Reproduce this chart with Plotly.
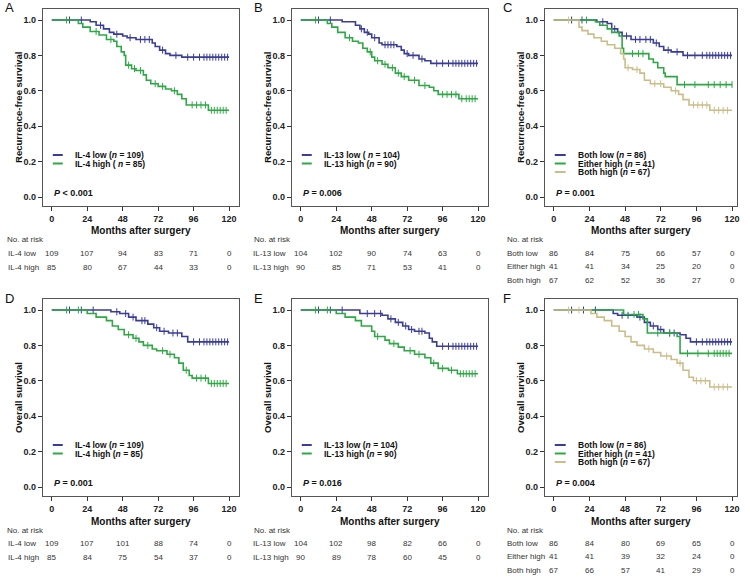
import plotly.graph_objects as go

W, H = 750, 579
FONT = "Liberation Sans, Arial, sans-serif"
BLUE = "#3a3d96"
GREEN = "#2ea844"
TAN = "#cbbd8a"

month_ticks = [0, 24, 48, 72, 96, 120]
surv_ticks = [0.0, 0.2, 0.4, 0.6, 0.8, 1.0]

# ---------------- Panel A (RFS, IL-4) ----------------
A_low_t = [0, 26, 30, 35, 39, 42, 48, 51, 57, 68, 70, 73, 77, 80, 88, 120]
A_low_s = [1.0, 0.99, 0.97, 0.95, 0.93, 0.92, 0.91, 0.90, 0.89, 0.87, 0.85, 0.83, 0.81, 0.80, 0.79, 0.79]
A_low_c = [12, 20, 33, 44, 53, 60, 63, 66, 75, 84, 92, 96, 100, 103, 105, 107, 109, 111, 113, 115, 117, 119]
A_high_t = [0, 18, 21, 26, 32, 37, 42, 44, 47, 49, 50, 54, 57, 62, 64, 67, 72, 77, 81, 85, 88, 91, 106, 120]
A_high_s = [1.0, 0.98, 0.96, 0.935, 0.915, 0.89, 0.88, 0.85, 0.82, 0.80, 0.745, 0.725, 0.715, 0.69, 0.66, 0.64, 0.625, 0.61, 0.60, 0.58, 0.555, 0.52, 0.49, 0.49]
A_high_c = [10, 30, 40, 52, 56, 60, 70, 75, 83, 95, 98, 101, 104, 108, 110, 112, 114, 116, 118]

# ---------------- Panel B (RFS, IL-13) ----------------
B_low_t = [0, 28, 37, 40, 43, 46, 48, 53, 55, 65, 68, 70, 73, 80, 84, 88, 120]
B_low_s = [1.0, 0.99, 0.97, 0.95, 0.93, 0.92, 0.90, 0.87, 0.86, 0.85, 0.83, 0.81, 0.80, 0.78, 0.77, 0.755, 0.755]
B_low_c = [12, 20, 41, 45, 50, 57, 59, 61, 63, 72, 76, 82, 92, 96, 100, 103, 105, 107, 109, 111, 113, 115, 117, 119]
B_high_t = [0, 18, 21, 25, 30, 35, 39, 42, 45, 48, 50, 55, 59, 64, 68, 73, 80, 87, 90, 93, 107, 120]
B_high_s = [1.0, 0.98, 0.96, 0.93, 0.90, 0.88, 0.87, 0.84, 0.82, 0.79, 0.77, 0.75, 0.73, 0.70, 0.68, 0.66, 0.63, 0.62, 0.60, 0.58, 0.555, 0.555]
B_high_c = [10, 33, 47, 52, 57, 62, 66, 70, 77, 84, 96, 99, 102, 105, 109, 112, 114, 116, 118]

# ---------------- Panel C (RFS, combined) ----------------
C_low_t = [0, 29, 36, 39, 43, 46, 52, 67, 71, 74, 79, 87, 120]
C_low_s = [1.0, 0.99, 0.98, 0.95, 0.93, 0.91, 0.89, 0.87, 0.85, 0.83, 0.82, 0.80, 0.80]
C_low_c = [12, 19, 33, 41, 49, 55, 58, 62, 65, 69, 77, 83, 90, 95, 100, 103, 105, 107, 109, 111, 113, 115, 117, 119]
C_either_t = [0, 28, 31, 36, 39, 44, 46, 47, 64, 67, 70, 74, 75, 83, 120]
C_either_s = [1.0, 0.99, 0.97, 0.95, 0.93, 0.91, 0.84, 0.81, 0.78, 0.76, 0.73, 0.70, 0.68, 0.635, 0.635]
C_either_c = [22, 53, 57, 60, 88, 95, 104, 108, 112, 116, 120]
C_high_t = [0, 17, 19, 23, 27, 32, 36, 41, 45, 47, 48, 53, 58, 61, 65, 74, 79, 84, 87, 91, 105, 120]
C_high_s = [1.0, 0.96, 0.94, 0.92, 0.90, 0.88, 0.86, 0.84, 0.81, 0.78, 0.73, 0.72, 0.70, 0.66, 0.64, 0.62, 0.60, 0.58, 0.55, 0.52, 0.49, 0.49]
C_high_c = [10, 50, 56, 68, 72, 82, 94, 97, 100, 103, 108, 111, 114, 117]

# ---------------- Panel D (OS, IL-4) ----------------
D_low_t = [0, 40, 46, 52, 57, 65, 69, 73, 79, 88, 92, 120]
D_low_s = [1.0, 0.99, 0.98, 0.96, 0.94, 0.92, 0.90, 0.88, 0.87, 0.85, 0.82, 0.82]
D_low_c = [12, 20, 28, 44, 50, 55, 61, 63, 71, 76, 82, 85, 96, 100, 103, 105, 107, 109, 111, 113, 115, 117, 119]
D_high_t = [0, 24, 30, 37, 41, 45, 49, 55, 59, 62, 68, 71, 78, 83, 86, 89, 93, 95, 106, 120]
D_high_s = [1.0, 0.98, 0.96, 0.94, 0.91, 0.89, 0.86, 0.84, 0.82, 0.80, 0.78, 0.77, 0.75, 0.73, 0.70, 0.66, 0.63, 0.615, 0.585, 0.585]
D_high_c = [10, 18, 52, 57, 65, 75, 80, 91, 98, 101, 104, 108, 110, 112, 114, 116, 118]

# ---------------- Panel E (OS, IL-13) ----------------
E_low_t = [0, 40, 55, 59, 64, 69, 73, 77, 84, 87, 89, 92, 120]
E_low_s = [1.0, 0.98, 0.97, 0.95, 0.93, 0.91, 0.89, 0.88, 0.87, 0.84, 0.82, 0.795, 0.795]
E_low_c = [12, 20, 28, 45, 50, 54, 61, 66, 71, 75, 80, 82, 96, 100, 103, 105, 107, 109, 111, 113, 115, 117, 119]
E_high_t = [0, 24, 30, 37, 41, 48, 50, 57, 60, 66, 70, 77, 84, 88, 93, 100, 106, 120]
E_high_s = [1.0, 0.98, 0.96, 0.94, 0.91, 0.88, 0.85, 0.83, 0.81, 0.79, 0.77, 0.75, 0.73, 0.70, 0.67, 0.66, 0.64, 0.64]
E_high_c = [10, 18, 52, 63, 74, 80, 90, 96, 102, 108, 110, 112, 114, 116, 118]

# ---------------- Panel F (OS, combined) ----------------
F_low_t = [0, 40, 43, 56, 61, 65, 70, 74, 85, 89, 92, 120]
F_low_s = [1.0, 0.98, 0.97, 0.96, 0.93, 0.91, 0.89, 0.87, 0.86, 0.84, 0.82, 0.82]
F_low_c = [12, 20, 28, 46, 50, 58, 63, 67, 72, 78, 81, 96, 100, 103, 105, 107, 109, 111, 113, 115, 117, 119]
F_either_t = [0, 47, 60, 63, 83, 85, 120]
F_either_s = [1.0, 0.975, 0.95, 0.87, 0.85, 0.755, 0.755]
F_either_c = [54, 57, 70, 78, 90, 97, 104, 108, 110, 112, 114, 116, 118]
F_high_t = [0, 25, 29, 34, 39, 44, 48, 52, 56, 61, 67, 72, 79, 83, 87, 91, 94, 105, 120]
F_high_s = [1.0, 0.98, 0.96, 0.94, 0.91, 0.88, 0.85, 0.82, 0.80, 0.78, 0.76, 0.74, 0.72, 0.70, 0.66, 0.62, 0.60, 0.565, 0.565]
F_high_c = [10, 17, 64, 76, 85, 96, 99, 102, 108, 111, 114, 117]

# ---------------- Risk tables ----------------
A_risk_rows = ["IL-4 low", "IL-4 high"]
A_risk = [[109, 107, 94, 83, 71, 0], [85, 80, 67, 44, 33, 0]]
B_risk_rows = ["IL-13 low", "IL-13 high"]
B_risk = [[104, 102, 90, 74, 63, 0], [90, 85, 71, 53, 41, 0]]
C_risk_rows = ["Both low", "Either high", "Both high"]
C_risk = [[86, 84, 75, 66, 57, 0], [41, 41, 34, 25, 20, 0], [67, 62, 52, 36, 27, 0]]
D_risk_rows = ["IL-4 low", "IL-4 high"]
D_risk = [[109, 107, 101, 88, 74, 0], [85, 84, 75, 54, 37, 0]]
E_risk_rows = ["IL-13 low", "IL-13 high"]
E_risk = [[104, 102, 98, 82, 66, 0], [90, 89, 78, 60, 45, 0]]
F_risk_rows = ["Both low", "Either high", "Both high"]
F_risk = [[86, 84, 80, 69, 65, 0], [41, 41, 39, 32, 24, 0], [67, 66, 57, 41, 29, 0]]

A_legend = ["IL-4 low (<i>n</i> = 109)", "IL-4 high ( <i>n</i> = 85)"]
B_legend = ["IL-13 low ( <i>n</i> = 104)", "IL-13 high (<i>n</i> = 90)"]
C_legend = ["Both low (<i>n</i> = 86)", "Either high (<i>n</i> = 41)", "Both high (<i>n</i> = 67)"]
D_legend = ["IL-4 low (<i>n</i> = 109)", "IL-4 high (<i>n</i> = 85)"]
E_legend = ["IL-13 low (<i>n</i> = 104)", "IL-13 high (<i>n</i> = 90)"]
F_legend = ["Both low (<i>n</i> = 86)", "Either high (<i>n</i> = 41)", "Both high (<i>n</i> = 67)"]

p_values = ["<i>P</i> < 0.001", "<i>P</i> = 0.006", "<i>P</i> = 0.001",
            "<i>P</i> = 0.001", "<i>P</i> = 0.016", "<i>P</i> = 0.004"]
panel_letters = ["A", "B", "C", "D", "E", "F"]
y_titles = ["Recurrence-free survival"] * 3 + ["Overall survival"] * 3
x_title = "Months after surgery"

panels = [
    dict(curves=[(A_low_t, A_low_s, A_low_c, BLUE), (A_high_t, A_high_s, A_high_c, GREEN)],
         legend=A_legend, rows=A_risk_rows, risk=A_risk),
    dict(curves=[(B_low_t, B_low_s, B_low_c, BLUE), (B_high_t, B_high_s, B_high_c, GREEN)],
         legend=B_legend, rows=B_risk_rows, risk=B_risk),
    dict(curves=[(C_low_t, C_low_s, C_low_c, BLUE), (C_either_t, C_either_s, C_either_c, GREEN),
                 (C_high_t, C_high_s, C_high_c, TAN)],
         legend=C_legend, rows=C_risk_rows, risk=C_risk),
    dict(curves=[(D_low_t, D_low_s, D_low_c, BLUE), (D_high_t, D_high_s, D_high_c, GREEN)],
         legend=D_legend, rows=D_risk_rows, risk=D_risk),
    dict(curves=[(E_low_t, E_low_s, E_low_c, BLUE), (E_high_t, E_high_s, E_high_c, GREEN)],
         legend=E_legend, rows=E_risk_rows, risk=E_risk),
    dict(curves=[(F_low_t, F_low_s, F_low_c, BLUE), (F_either_t, F_either_s, F_either_c, GREEN),
                 (F_high_t, F_high_s, F_high_c, TAN)],
         legend=F_legend, rows=F_risk_rows, risk=F_risk),
]


def px(x):
    return x / W


def py(y):
    return 1 - y / H


def step_at(ts, ss, c):
    v = ss[0]
    for t, s in zip(ts, ss):
        if t <= c:
            v = s
    return v


fig = go.Figure()
annotations = []
shapes = []
layout_axes = {}
TABLE_FONT = dict(family=FONT, size=8, color="#333")

for i, p in enumerate(panels):
    col, row = i % 3, i // 3
    ro = 290 * row
    if col < 2:
        box_l, box_r, t0, t120 = 43 + 250 * col, 240 + 250 * col, 52 + 250 * col, 230 + 250 * col
        col_x0 = 250 * col
    else:
        box_l, box_r, t0, t120 = 547, 740, 556, 735
        col_x0 = 500
    box_t, box_b, y1, y0 = 9 + ro, 206 + ro, 20 + ro, 197 + ro
    ppm = (t120 - t0) / 120
    xr = [-(t0 - box_l) / ppm, 120 + (box_r - t120) / ppm]
    ppu = y0 - y1
    yr = [-(box_b - y0) / ppu, 1 + (y1 - box_t) / ppu]

    sfx = "" if i == 0 else str(i + 1)
    xa, ya = "x" + sfx, "y" + sfx
    layout_axes["xaxis" + sfx] = dict(
        domain=[px(box_l), px(box_r)], range=xr, anchor=ya,
        tickmode="array", tickvals=month_ticks, ticks="outside", ticklen=4,
        tickcolor="#333", showline=True, linecolor="#555", linewidth=1, mirror=True,
        showgrid=False, zeroline=False,
        tickfont=dict(family=FONT, size=9, color="#222", weight="bold"))
    layout_axes["yaxis" + sfx] = dict(
        domain=[py(box_b), py(box_t)], range=yr, anchor=xa,
        tickmode="array", tickvals=surv_ticks, tickformat=".1f", ticks="outside", ticklen=4,
        tickcolor="#333", showline=True, linecolor="#555", linewidth=1, mirror=True,
        showgrid=False, zeroline=False,
        tickfont=dict(family=FONT, size=9, color="#222", weight="bold"))

    for (ts, ss, cs, color) in p["curves"]:
        fig.add_trace(go.Scatter(x=ts, y=ss, mode="lines", line=dict(color=color, width=1.6, shape="hv"),
                                 xaxis=xa, yaxis=ya, showlegend=False, hoverinfo="skip"))
        fig.add_trace(go.Scatter(x=cs, y=[step_at(ts, ss, c) for c in cs], mode="markers",
                                 marker=dict(symbol="line-ns-open", size=5, color=color,
                                             line=dict(color=color, width=1)),
                                 xaxis=xa, yaxis=ya, showlegend=False, hoverinfo="skip"))

    # panel letter
    annotations.append(dict(text=panel_letters[i], x=px(col_x0 + 3), y=py(ro + 8), xref="paper", yref="paper",
                            xanchor="left", yanchor="middle", showarrow=False,
                            font=dict(family=FONT, size=13, color="#111")))
    # y title
    annotations.append(dict(text="<b>" + y_titles[i] + "</b>", x=px(box_l - 25), y=py(ro + 107),
                            xref="paper", yref="paper", textangle=-90, showarrow=False,
                            xanchor="center", yanchor="middle",
                            font=dict(family=FONT, size=9.5, color="#111")))
    # x title
    annotations.append(dict(text="<b>" + x_title + "</b>", x=px((box_l + box_r) / 2), y=py(ro + 231),
                            xref="paper", yref="paper", showarrow=False, xanchor="center", yanchor="middle",
                            font=dict(family=FONT, size=10, color="#111")))
    # legend
    if col < 2:
        lx0, lx1, tx = box_l + 10, box_l + 20, box_l + 30
    else:
        lx0, lx1, tx = box_l + 10, box_l + 21, box_l + 31
    for k, lab in enumerate(p["legend"]):
        yy = ro + 155 + 8.5 * k
        color = p["curves"][k][3]
        shapes.append(dict(type="line", xref="paper", yref="paper", x0=px(lx0), x1=px(lx1),
                           y0=py(yy), y1=py(yy), line=dict(color=color, width=2)))
        annotations.append(dict(text="<b>" + lab + "</b>", x=px(tx), y=py(yy), xref="paper", yref="paper",
                                showarrow=False, xanchor="left", yanchor="middle",
                                font=dict(family=FONT, size=8.5, color="#111")))
    # p-value
    annotations.append(dict(text="<b>" + p_values[i] + "</b>", x=px(t0), y=py(ro + 193), xref="paper",
                            yref="paper", showarrow=False, xanchor="left", yanchor="middle",
                            font=dict(family=FONT, size=9, color="#111")))
    # risk table
    annotations.append(dict(text="No. at risk", x=px(col_x0 + (5 if col == 0 else 3 if col == 1 else 7)),
                            y=py(ro + 240), xref="paper", yref="paper", showarrow=False,
                            xanchor="left", yanchor="middle", font=TABLE_FONT))
    n_rows = len(p["rows"])
    row_ys = [253, 267] if n_rows == 2 else [253, 266.5, 280]
    lab_x = col_x0 + (6 if col == 0 else 2 if col == 1 else 7)
    for r, (rname, vals) in enumerate(zip(p["rows"], p["risk"])):
        yy = ro + row_ys[r]
        annotations.append(dict(text=rname, x=px(lab_x), y=py(yy),
                                xref="paper", yref="paper", showarrow=False, xanchor="left",
                                yanchor="middle", font=TABLE_FONT))
        for m, v in zip(month_ticks, vals):
            annotations.append(dict(text=str(v), x=m, y=py(yy), xref=xa, yref="paper", showarrow=False,
                                    xanchor="center", yanchor="middle", font=TABLE_FONT))

fig.update_layout(width=W, height=H, margin=dict(l=0, r=0, t=0, b=0), paper_bgcolor="white",
                  plot_bgcolor="white", showlegend=False, annotations=annotations, shapes=shapes,
                  **layout_axes)
fig.write_html("out.html", config={"displayModeBar": False},
               post_script="document.body.style.margin='0px';")
